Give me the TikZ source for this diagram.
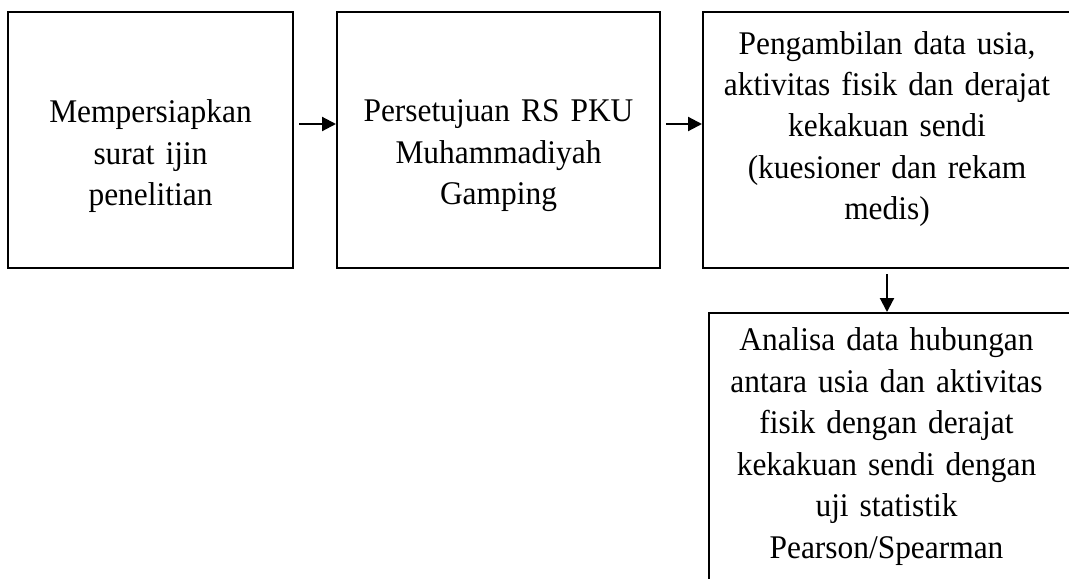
\documentclass[tikz,border=0pt]{standalone}
\usepackage{fontspec}
\setmainfont{Liberation Serif}[FakeStretch=0.95,WordSpace=0.75]
\usetikzlibrary{arrows.meta,positioning}
\tikzset{
  stage/.style={draw, line width=1.5pt, inner sep=0pt, minimum height=192pt},
  caption/.style={anchor=base, align=center, text width=270pt, inner sep=0pt,
    font=\fontsize{24.8}{31.1}\selectfont},
  flow/.style={line width=1.6pt, -{Triangle[length=10.5pt,width=10.5pt]}, shorten <=4pt}
}
\begin{document}
\begin{tikzpicture}[x=0.75pt,y=-0.75pt]
\useasboundingbox (0,0) rectangle (1069,578);
%boxes
\node[stage, minimum width=213.75pt] (siap) at (150.5,140) {};
\node[stage, minimum width=242.25pt] (setuju) at (498.5,140) {};
\node[stage, minimum width=276pt] (ambil) at (887,140) {};
\node[stage, minimum width=272.25pt, minimum height=215.25pt] (analisa) at (890.5,456.5) {};
%texts
\node[caption] (siap-t) at (150.5,122.7) {Mempersiapkan\\surat ijin\\penelitian};
\node[caption] (setuju-t) at (498.5,121.7) {Persetujuan RS PKU\\Muhammadiyah\\Gamping};
\node[caption] (ambil-t) at (887,54) {Pengambilan data usia,\\aktivitas fisik dan derajat\\kekakuan sendi\\(kuesioner dan rekam\\medis)};
\node[caption] (analisa-t) at (886.5,350.7) {Analisa data hubungan\\antara usia dan aktivitas\\fisik dengan derajat\\kekakuan sendi dengan\\uji statistik\\Pearson/Spearman};
%arrows
\draw[flow] ([yshift=12pt]siap.east) -- ([yshift=12pt]setuju.west);
\draw[flow] ([yshift=12pt]setuju.east) -- ([yshift=12pt]ambil.west);
\draw[flow] (ambil.south) -- (ambil.south |- analisa.north);
\end{tikzpicture}
\end{document}
